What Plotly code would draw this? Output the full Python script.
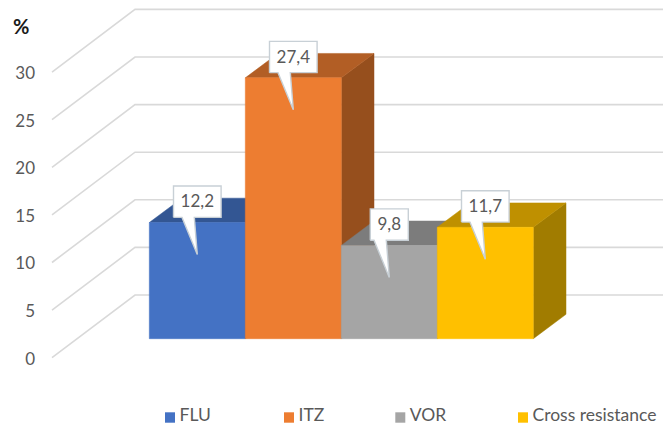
import plotly.graph_objects as go

# --- data ---
CATEGORIES = ["FLU", "ITZ", "VOR", "Cross resistance"]
VALUES = [12.2, 27.4, 9.8, 11.7]
VALUE_LABELS = ["12,2", "27,4", "9,8", "11,7"]
TICKS = [0, 5, 10, 15, 20, 25, 30]
FRONT_COLORS = ["#4472C4", "#ED7D31", "#A5A5A5", "#FFC000"]
TOP_COLORS = ["#335693", "#B25E25", "#7C7C7C", "#BF9000"]
SIDE_COLORS = ["#2B4A7E", "#964F1D", "#686868", "#A17C00"]
LEGEND_SWATCH_PX = [165, 284, 395.3, 518]

# --- layout geometry (pixels of the 670x426 page) ---
W, H = 670, 426
ML = 38
X0_PX, X_UNIT = 197.3, 96.0      # centre of first bar, width of a bar
Y0_PX, Y_UNIT = 338.7, 9.52      # front baseline of the bars, px per value unit


def X(px):
    return (px - X0_PX) / X_UNIT


def Y(px):
    return (Y0_PX - px) / Y_UNIT


DEPTH_X = 32.7 / X_UNIT
DEPTH_Y = 24.4 / Y_UNIT
GRID_FRONT = Y(357.7)
GRID_BACK = Y(295.0)

fig = go.Figure()

# oblique gridlines
gx, gy = [], []
for t in TICKS:
    gx += [X(52), X(135), X(663), None]
    gy += [t + GRID_FRONT, t + GRID_BACK, t + GRID_BACK, None]
fig.add_trace(go.Scatter(x=gx, y=gy, mode="lines", line=dict(color="#D9D9D9", width=1.6),
                         hoverinfo="skip", showlegend=False))


def poly(xs, ys, color, name=None, line=None):
    fig.add_trace(go.Scatter(
        x=xs + xs[:1], y=ys + ys[:1], mode="lines", fill="toself", fillcolor=color,
        line=dict(color=line or color, width=0.5 if line is None else 1.4),
        name=name, showlegend=False, hoverinfo="skip"))


# bars, left to right so that each one hides the side of its neighbour
for i, (c, v) in enumerate(zip(CATEGORIES, VALUES)):
    l, r = i - 0.5, i + 0.5
    poly([r, r + DEPTH_X, r + DEPTH_X, r], [0, DEPTH_Y, v + DEPTH_Y, v], SIDE_COLORS[i])
    poly([l, r, r + DEPTH_X, l + DEPTH_X], [v, v, v + DEPTH_Y, v + DEPTH_Y], TOP_COLORS[i])
    poly([l, r, r, l], [0, 0, v, v], FRONT_COLORS[i], name=c)

# callouts
GAP = 5.2 / Y_UNIT
BOX_H = 31.3 / Y_UNIT
TIP = 32.0 / Y_UNIT
TEXT_DROP = 1.5 / Y_UNIT
for i, (v, lab) in enumerate(zip(VALUES, VALUE_LABELS)):
    half = (19.0 if len(lab) == 3 else 23.8) / X_UNIT
    b, t_ = v + GAP, v + GAP + BOX_H
    xs = [i - half, i - 15.3 / X_UNIT, i, i - 3 / X_UNIT, i + half, i + half, i - half]
    ys = [b, b, v - TIP, b, b, t_, t_]
    poly(xs, ys, "#FFFFFF", line="#C8D0D6")
    fig.add_trace(go.Scatter(x=[i], y=[(b + t_) / 2 - TEXT_DROP], mode="text", text=[lab],
                             textposition="middle center",
                             textfont=dict(family="Lato", size=17, color="#595959"),
                             hoverinfo="skip", showlegend=False))

# legend swatches and names
shapes, annotations = [], []
for c, col, sx in zip(CATEGORIES, FRONT_COLORS, LEGEND_SWATCH_PX):
    shapes.append(dict(type="rect", x0=X(sx), x1=X(sx + 10), y0=Y(422.7), y1=Y(412.3),
                       fillcolor=col, line=dict(width=0)))
    fig.add_trace(go.Scatter(x=[X(sx + 14.5)], y=[Y(416.5)], mode="text", text=[c],
                             textposition="middle right",
                             textfont=dict(family="Lato", size=17.5, color="#595959"),
                             hoverinfo="skip", showlegend=False, cliponaxis=False))
annotations.append(dict(text="<b>%</b>", x=(21 - ML) / (W - ML), y=1 - 26 / H,
                        xref="paper", yref="paper", showarrow=False, xanchor="center",
                        yanchor="middle",
                        font=dict(family="Lato", size=20, color="#1A1A1A")))

fig.update_layout(
    width=W, height=H, margin=dict(l=ML, r=0, t=0, b=0), autosize=False,
    paper_bgcolor="white", plot_bgcolor="rgba(0,0,0,0)", showlegend=False,
    shapes=shapes, annotations=annotations,
    xaxis=dict(range=[X(ML), X(W)], visible=False, fixedrange=True),
    yaxis=dict(range=[Y(H), Y(0)], showgrid=False, zeroline=False, showline=False, ticks="",
               tickvals=[t + GRID_FRONT - 0.1 for t in TICKS], ticktext=[str(t) for t in TICKS],
               ticklabelstandoff=2,
               tickfont=dict(family="Lato", size=17, color="#595959"), fixedrange=True),
)
fig.write_html("out.html", config={"displayModeBar": False},
               post_script="document.body.style.margin='0';")
